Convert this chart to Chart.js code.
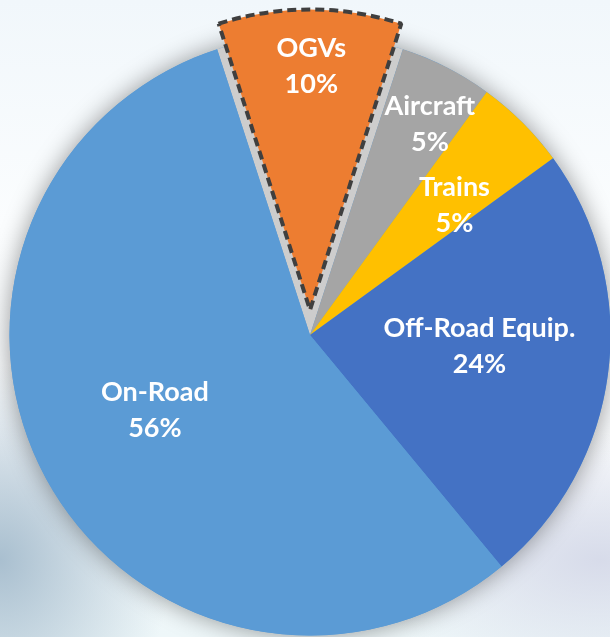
<!DOCTYPE html>
<html>
<head>
<meta charset="utf-8">
<script src="https://cdn.jsdelivr.net/npm/chart.js@4.4.1/dist/chart.umd.min.js"></script>
<style>
html,body{margin:0;padding:0;width:610px;height:637px;overflow:hidden;}
#wrap{position:relative;width:610px;height:637px;
background:
 radial-gradient(ellipse 230px 260px at 0px 560px, rgba(165,188,205,0.95), rgba(165,188,205,0) 75%),
 radial-gradient(ellipse 320px 170px at 600px 560px, rgba(212,216,232,0.9), rgba(212,216,232,0) 75%),
 linear-gradient(180deg, #f1f7fb 0%, #fbfdfe 35%, #f7f9fb 75%, #eef7f9 100%);
}
canvas{display:block;}
</style>
</head>
<body>
<div id="wrap"><canvas id="c" width="610" height="637"></canvas></div>
<script>
// ---- data ----
const categories = ['OGVs', 'Aircraft', 'Trains', 'Off-Road Equip.', 'On-Road'];
const shares = [10, 5, 5, 24, 56];
const shareLabels = ['10%', '5%', '5%', '24%', '56%'];
const sliceColors = ['#ED7D31', '#A5A5A5', '#FFC000', '#4472C4', '#5B9BD5'];
const highlighted = 0; // OGVs slice is pulled out

// ---- label placement style (radius fraction, angle tweak in degrees) ----
const labelStyle = [
  {r: 0.815, da: 0.3},
  {r: 0.81, da: 2.5},
  {r: 0.65, da: 2.7},
  {r: 0.565, da: -3.8},
  {r: 0.572, da: 3.3}
];

const DASH = [9, 5];

function shiftOf(el) {
  const off = (el.options.offset || 0) / 4;
  const half = (el.startAngle + el.endAngle) / 2;
  return {dx: Math.cos(half) * off, dy: Math.sin(half) * off};
}

const decorPlugin = {
  id: 'decor',
  afterUpdate(chart) {
    const meta = chart.getDatasetMeta(0);
    meta.data.forEach(el => {
      el._baseR = el.outerRadius;
      const off = (el.options.offset || 0) / 4;
      if (off) {
        const fix = 1 - Math.sin(Math.min(Math.PI, el.circumference || 0));
        el.outerRadius = el._baseR - off * fix;
      }
    });
  },
  beforeDatasetsDraw(chart) {
    const ctx = chart.ctx;
    const meta = chart.getDatasetMeta(0);
    const el0 = meta.data[0];
    const R = el0._baseR;
    // soft shadow under the whole pie
    ctx.save();
    ctx.shadowColor = 'rgba(0,0,0,0.4)';
    ctx.shadowBlur = 24;
    ctx.beginPath();
    ctx.arc(el0.x, el0.y, R, 0, Math.PI * 2);
    ctx.fillStyle = '#5B9BD5';
    ctx.fill();
    ctx.restore();
    // light grey ghost of the pulled-out slice at its original place
    const h = meta.data[highlighted];
    ctx.save();
    ctx.beginPath();
    ctx.moveTo(h.x, h.y);
    ctx.arc(h.x, h.y, h._baseR, h.startAngle, h.endAngle);
    ctx.closePath();
    ctx.fillStyle = '#cdcdcd';
    ctx.fill();
    ctx.restore();
    ctx.save();
    ctx.setLineDash(DASH);
  },
  afterDatasetsDraw(chart) {
    const ctx = chart.ctx;
    ctx.restore();
    const meta = chart.getDatasetMeta(0);
    ctx.save();
    ctx.fillStyle = '#ffffff';
    ctx.textAlign = 'center';
    ctx.textBaseline = 'alphabetic';
    ctx.font = 'bold 27px Lato';
    meta.data.forEach((el, i) => {
      const s = shiftOf(el);
      const cx = el.x + s.dx, cy = el.y + s.dy;
      const ang = (el.startAngle + el.endAngle) / 2 + labelStyle[i].da * Math.PI / 180;
      const r = labelStyle[i].r * el._baseR;
      const x = cx + Math.cos(ang) * r;
      const y = cy + Math.sin(ang) * r;
      ctx.fillText(categories[i], x, y - 8);
      ctx.fillText(shareLabels[i], x, y + 28);
    });
    ctx.restore();
  }
};

new Chart(document.getElementById('c'), {
  type: 'pie',
  data: {
    labels: categories,
    datasets: [{
      data: shares,
      backgroundColor: sliceColors,
      borderWidth: shares.map((v, i) => i === highlighted ? 4 : 0),
      borderColor: '#3f3f3f',
      borderDash: DASH,
      borderJoinStyle: 'bevel',
      borderAlign: 'center',
      offset: shares.map((v, i) => i === highlighted ? 100 : 0),
      clip: false
    }]
  },
  options: {
    responsive: false,
    animation: false,
    events: [],
    devicePixelRatio: 1,
    rotation: -18,
    radius: 300.5,
    layout: {padding: {left: 10, right: 0, top: 33, bottom: 0}},
    plugins: {legend: {display: false}, tooltip: {enabled: false}}
  },
  plugins: [decorPlugin]
});
</script>
</body>
</html>
